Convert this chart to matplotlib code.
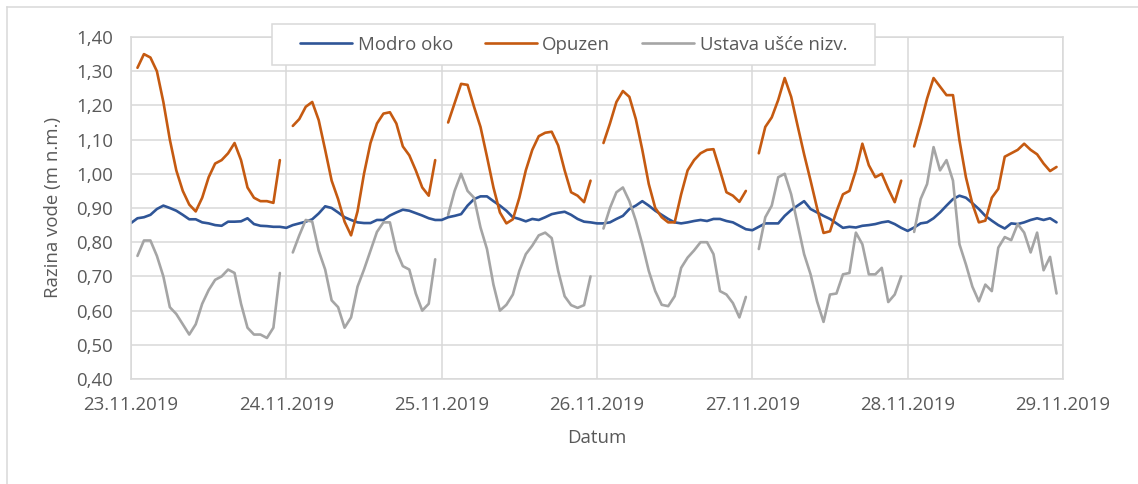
import numpy as np
import pandas as pd
import matplotlib
matplotlib.use("Agg")
import matplotlib.pyplot as plt
import matplotlib.dates as mdates
from matplotlib.patches import Rectangle
from matplotlib.lines import Line2D
from matplotlib.ticker import FuncFormatter, MultipleLocator

plt.rcParams['font.family'] = ['Open Sans', 'DejaVu Sans']

# ---- data (hourly water levels, m a.s.l.) ----
series_names = ["Modro oko", "Opuzen", "Ustava ušće nizv."]
start_date = "2019-11-23"
n_days = 6

# Modro oko: continuous, hours 0..23 for each day
modro_oko = [
    0.856, 0.870, 0.873, 0.880, 0.897, 0.907, 0.900, 0.892, 0.880, 0.867, 0.867, 0.858,
    0.855, 0.850, 0.848, 0.860, 0.860, 0.861, 0.870, 0.853, 0.848, 0.847, 0.845, 0.845,
    0.842, 0.850, 0.855, 0.860, 0.867, 0.884, 0.905, 0.900, 0.887, 0.873, 0.865, 0.858,
    0.856, 0.856, 0.865, 0.865, 0.878, 0.887, 0.895, 0.892, 0.885, 0.878, 0.870, 0.865,
    0.865, 0.873, 0.877, 0.882, 0.907, 0.926, 0.934, 0.934, 0.920, 0.907, 0.892, 0.873,
    0.868, 0.861, 0.868, 0.865, 0.873, 0.882, 0.886, 0.889, 0.880, 0.868, 0.860, 0.858,
    0.855, 0.855, 0.858, 0.868, 0.877, 0.897, 0.907, 0.920, 0.907, 0.892, 0.880, 0.868,
    0.858, 0.855, 0.858, 0.862, 0.865, 0.862, 0.868, 0.868, 0.862, 0.858, 0.848, 0.838,
    0.835, 0.845, 0.855, 0.855, 0.855, 0.877, 0.894, 0.907, 0.920, 0.897, 0.887, 0.877,
    0.868, 0.855, 0.842, 0.845, 0.843, 0.848, 0.850, 0.853, 0.858, 0.861, 0.853, 0.842,
    0.833, 0.843, 0.855, 0.858, 0.870, 0.887, 0.907, 0.926, 0.936, 0.930, 0.914, 0.897,
    0.877, 0.863, 0.850, 0.840, 0.855, 0.853, 0.858, 0.865, 0.870, 0.865, 0.870, 0.858,
]

# Opuzen: hours 1..23 of each day (hour 0 missing)
opuzen_d1 = [1.31, 1.35, 1.34, 1.30, 1.21, 1.10, 1.01, 0.95, 0.91, 0.89, 0.93, 0.99,
             1.03, 1.04, 1.06, 1.09, 1.04, 0.96, 0.93, 0.92, 0.92, 0.915, 1.04]
opuzen_d2 = [1.14, 1.16, 1.196, 1.21, 1.157, 1.07, 0.98, 0.926, 0.86, 0.82, 0.89, 1.00,
             1.09, 1.147, 1.176, 1.18, 1.147, 1.08, 1.054, 1.01, 0.96, 0.936, 1.04]
opuzen_d3 = [1.15, 1.206, 1.263, 1.26, 1.196, 1.137, 1.05, 0.96, 0.887, 0.855, 0.867, 0.93,
             1.01, 1.07, 1.11, 1.12, 1.123, 1.083, 1.01, 0.946, 0.936, 0.917, 0.98]
opuzen_d4 = [1.09, 1.147, 1.21, 1.242, 1.225, 1.16, 1.07, 0.97, 0.90, 0.873, 0.858, 0.858,
             0.94, 1.01, 1.04, 1.06, 1.07, 1.072, 1.01, 0.946, 0.936, 0.918, 0.95]
opuzen_d5 = [1.06, 1.137, 1.165, 1.216, 1.28, 1.225, 1.14, 1.057, 0.98, 0.90, 0.827, 0.832,
             0.89, 0.94, 0.95, 1.01, 1.088, 1.025, 0.99, 1.00, 0.956, 0.917, 0.98]
opuzen_d6 = [1.08, 1.147, 1.22, 1.28, 1.255, 1.23, 1.23, 1.098, 0.99, 0.912, 0.858, 0.863,
             0.93, 0.956, 1.05, 1.06, 1.07, 1.088, 1.07, 1.057, 1.03, 1.008, 1.02]

# Ustava ušće nizv.: hours 1..23 of each day (hour 0 missing)
ustava_d1 = [0.76, 0.805, 0.805, 0.76, 0.70, 0.61, 0.59, 0.56, 0.53, 0.56, 0.62, 0.66,
             0.69, 0.70, 0.72, 0.71, 0.62, 0.55, 0.53, 0.53, 0.52, 0.55, 0.71]
ustava_d2 = [0.77, 0.82, 0.865, 0.86, 0.775, 0.72, 0.63, 0.61, 0.55, 0.58, 0.67, 0.72,
             0.775, 0.83, 0.858, 0.858, 0.775, 0.73, 0.72, 0.65, 0.60, 0.62, 0.75]
ustava_d3 = [0.88, 0.95, 1.00, 0.95, 0.93, 0.843, 0.78, 0.676, 0.60, 0.617, 0.647, 0.716,
             0.765, 0.79, 0.82, 0.828, 0.812, 0.716, 0.642, 0.616, 0.608, 0.616, 0.70]
ustava_d4 = [0.84, 0.90, 0.946, 0.96, 0.92, 0.863, 0.794, 0.716, 0.657, 0.617, 0.613, 0.642,
             0.725, 0.755, 0.776, 0.80, 0.80, 0.765, 0.657, 0.647, 0.622, 0.58, 0.64]
ustava_d5 = [0.78, 0.873, 0.907, 0.99, 1.00, 0.94, 0.853, 0.765, 0.706, 0.627, 0.567, 0.647,
             0.65, 0.706, 0.71, 0.828, 0.794, 0.706, 0.706, 0.725, 0.625, 0.647, 0.70]
ustava_d6 = [0.83, 0.926, 0.97, 1.078, 1.01, 1.04, 0.98, 0.794, 0.735, 0.67, 0.627, 0.676,
             0.657, 0.784, 0.815, 0.806, 0.853, 0.828, 0.77, 0.828, 0.718, 0.757, 0.65]

opuzen_days = [opuzen_d1, opuzen_d2, opuzen_d3, opuzen_d4, opuzen_d5, opuzen_d6]
ustava_days = [ustava_d1, ustava_d2, ustava_d3, ustava_d4, ustava_d5, ustava_d6]

# ---- build hourly table (hour 0 missing for Opuzen / Ustava -> gaps) ----
times = pd.date_range(start_date, periods=24 * n_days, freq="h")

def with_gaps(days):
    out = []
    for d in days:
        out.append(np.nan)
        out.extend(d)
    return np.array(out, dtype=float)

df = pd.DataFrame({
    series_names[0]: modro_oko,
    series_names[1]: with_gaps(opuzen_days),
    series_names[2]: with_gaps(ustava_days),
}, index=times)

colors = ["#2F5597", "#C55A11", "#A5A5A5"]
txt_color = "#595959"
grid_color = "#D9D9D9"
fs = 13.4

W, H = 1138, 484
fig = plt.figure(figsize=(W / 100, H / 100), dpi=100)
fig.patch.set_facecolor("white")

ax = fig.add_axes([131 / W, 1 - 379 / H, (1063 - 131) / W, (379 - 37) / H])
for name, c in zip(series_names, colors):
    ax.plot(df.index, df[name], color=c, lw=1.9, label=name,
            solid_joinstyle="round", solid_capstyle="round")

ax.set_ylim(0.40, 1.40)
ax.yaxis.set_major_locator(MultipleLocator(0.10))
ax.yaxis.set_major_formatter(FuncFormatter(lambda v, p: f"{v:.2f}".replace(".", ",")))
ax.set_xlim(pd.Timestamp("2019-11-23"), pd.Timestamp("2019-11-29"))
ax.xaxis.set_major_locator(mdates.DayLocator())
ax.xaxis.set_major_formatter(mdates.DateFormatter("%d.%m.%Y"))

ax.grid(True, color=grid_color, lw=1.1)
ax.set_axisbelow(True)
for s in ax.spines.values():
    s.set_color(grid_color)
    s.set_linewidth(1.1)
ax.tick_params(length=0, labelsize=fs, colors=txt_color)
ax.tick_params(axis="y", pad=13)
ax.tick_params(axis="x", pad=12)

fig.text(53 / W, 1 - 208 / H, "Razina vode (m n.m.)", rotation=90, ha="center",
         va="center", fontsize=fs, color=txt_color)
fig.text(597 / W, 1 - 438 / H, "Datum", ha="center", va="center",
         fontsize=fs, color=txt_color)

# outer chart frame (left and top edges visible)
fig.add_artist(Line2D([7 / W, 7 / W], [0, 1 - 7 / H], transform=fig.transFigure,
                      color=grid_color, lw=1.1))
fig.add_artist(Line2D([7 / W, 1], [1 - 7 / H, 1 - 7 / H], transform=fig.transFigure,
                      color=grid_color, lw=1.1))

# legend box
fig.add_artist(Rectangle((272 / W, 1 - 65 / H), (875 - 272) / W, 41 / H,
                         transform=fig.transFigure, facecolor="white",
                         edgecolor=grid_color, lw=1.1, zorder=3))
handles, labels = ax.get_legend_handles_labels()
leg = fig.legend(handles, labels, loc="center", bbox_to_anchor=(573.5 / W, 1 - 44.5 / H),
                 ncol=3, frameon=False, fontsize=fs, handlelength=2.8,
                 handletextpad=0.3, columnspacing=1.7, labelcolor=txt_color)
leg.set_zorder(5)

fig.savefig("out.png", dpi=100, facecolor="white")
